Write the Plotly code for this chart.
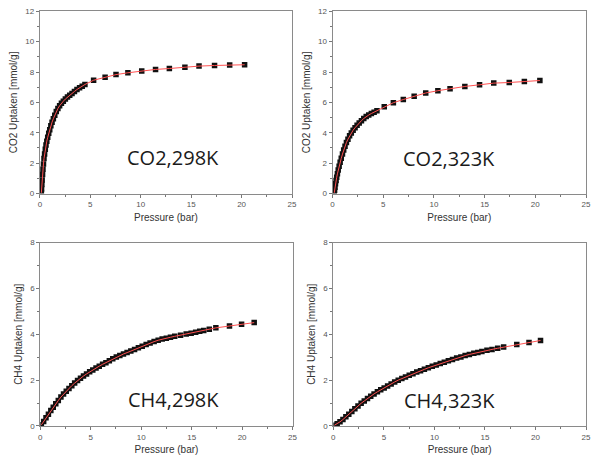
import plotly.graph_objects as go

# ---------------- data ----------------
co2_298_p = [0.15, 0.17, 0.2, 0.23, 0.27, 0.31, 0.36, 0.41, 0.47, 0.54, 0.61, 0.69, 0.78, 0.88, 0.98,
             1.09, 1.21, 1.34, 1.48, 1.63, 1.79, 1.96, 2.14, 2.33, 2.53, 2.74, 2.96, 3.19, 3.43, 3.68,
             3.94, 4.2, 4.47, 5.33, 6.47, 7.55, 8.73, 10.1, 11.47, 12.84, 14.38, 15.78, 17.32, 18.82, 20.3]
co2_298_q = [0.05, 0.3, 0.6, 0.9, 1.25, 1.6, 1.95, 2.3, 2.6, 2.92, 3.2, 3.45, 3.7, 3.97, 4.2,
             4.47, 4.7, 4.93, 5.15, 5.4, 5.6, 5.78, 5.95, 6.08, 6.22, 6.35, 6.47, 6.58, 6.72, 6.85,
             6.96, 7.07, 7.18, 7.46, 7.65, 7.83, 7.95, 8.06, 8.17, 8.23, 8.32, 8.39, 8.43, 8.47, 8.48]

co2_323_p = [0.17, 0.2, 0.24, 0.29, 0.35, 0.41, 0.48, 0.56, 0.65, 0.75, 0.86, 0.98, 1.1, 1.23, 1.37,
             1.52, 1.68, 1.85, 2.03, 2.22, 2.42, 2.63, 2.85, 3.08, 3.32, 3.57, 3.83, 4.1, 4.38,
             5.1, 6.0, 6.98, 8.05, 9.19, 10.39, 11.59, 13.05, 14.5, 15.9, 17.43, 18.92, 20.45]
co2_323_q = [0.05, 0.22, 0.42, 0.64, 0.86, 1.07, 1.3, 1.55, 1.8, 2.06, 2.32, 2.6, 2.86, 3.12, 3.36,
             3.58, 3.8, 3.99, 4.17, 4.33, 4.5, 4.65, 4.8, 4.94, 5.07, 5.17, 5.27, 5.36, 5.45,
             5.72, 5.98, 6.19, 6.41, 6.62, 6.77, 6.9, 7.05, 7.16, 7.27, 7.31, 7.38, 7.44]

ch4_298_p = [0.1, 0.33, 0.56, 0.8, 1.04, 1.28, 1.53, 1.78, 2.04, 2.3, 2.57, 2.84, 3.12, 3.4, 3.69,
             3.98, 4.28, 4.58, 4.89, 5.2, 5.52, 5.84, 6.17, 6.5, 6.84, 7.18, 7.53, 7.88, 8.24, 8.6,
             8.97, 9.34, 9.72, 10.1, 10.49, 10.88, 11.28, 11.68, 12.08, 12.49, 12.9, 13.32, 13.9,
             14.46, 14.95, 15.4, 15.8, 16.2, 16.75, 17.4, 18.75, 19.95, 21.2]
ch4_298_q = [0.05, 0.2, 0.36, 0.51, 0.67, 0.82, 0.97, 1.11, 1.26, 1.39, 1.52, 1.64, 1.76, 1.87, 1.98,
             2.08, 2.18, 2.27, 2.36, 2.44, 2.53, 2.61, 2.69, 2.76, 2.85, 2.93, 3.01, 3.07, 3.14, 3.2,
             3.27, 3.34, 3.41, 3.48, 3.55, 3.62, 3.68, 3.74, 3.79, 3.83, 3.87, 3.91, 3.96,
             4.01, 4.05, 4.09, 4.13, 4.17, 4.22, 4.28, 4.36, 4.44, 4.51]

ch4_323_p = [0.1, 0.38, 0.66, 0.95, 1.24, 1.53, 1.83, 2.13, 2.44, 2.75, 3.06, 3.38, 3.7, 4.03, 4.36,
             4.69, 5.03, 5.37, 5.72, 6.07, 6.42, 6.78, 7.14, 7.51, 7.88, 8.25, 8.63, 9.01, 9.4, 9.79,
             10.18, 10.58, 10.98, 11.38, 11.79, 12.2, 12.62, 13.04, 13.46, 13.9, 14.3, 14.7, 15.2,
             15.7, 16.26, 16.85, 18.15, 19.36, 20.5]
ch4_323_q = [0.03, 0.1, 0.18, 0.28, 0.4, 0.51, 0.63, 0.75, 0.87, 0.99, 1.09, 1.2, 1.3, 1.4, 1.49,
             1.58, 1.66, 1.74, 1.83, 1.92, 2.0, 2.07, 2.14, 2.21, 2.28, 2.35, 2.41, 2.47, 2.54, 2.6,
             2.66, 2.72, 2.78, 2.84, 2.9, 2.96, 3.01, 3.07, 3.12, 3.17, 3.21, 3.25, 3.3,
             3.34, 3.39, 3.44, 3.55, 3.64, 3.73]

panel_labels = ["CO2,298K", "CO2,323K", "CH4,298K", "CH4,323K"]
y_titles = ["CO2 Uptaken [mmol/g]", "CO2 Uptaken [mmol/g]",
            "CH4 Uptaken [mmol/g]", "CH4 Uptaken [mmol/g]"]
x_title = "Pressure (bar)"
y_max = [12, 12, 8, 8]
label_pos = [(13.2, 2.35), (11.45, 2.3), (13.2, 1.15), (11.45, 1.12)]

series = [(co2_298_p, co2_298_q), (co2_323_p, co2_323_q),
          (ch4_298_p, ch4_298_q), (ch4_323_p, ch4_323_q)]

W, H = 592, 465
# pixel boxes (left, right, top, bottom)
boxes = [(38.3, 293.5, 7.4, 193.3), (334.5, 591.0, 7.4, 193.3),
         (38.8, 294.0, 243.3, 430.3), (335.3, 591.0, 243.3, 430.3)]

fig = go.Figure()
axis_font = dict(family="Liberation Sans, Arial, sans-serif", size=8, color="#555555")
title_font = dict(family="Liberation Sans, Arial, sans-serif", size=10, color="#333333")

for i, ((px, py), box) in enumerate(zip(series, boxes)):
    n = "" if i == 0 else str(i + 1)
    fig.add_trace(go.Scatter(x=px, y=py, mode="markers", xaxis="x" + n, yaxis="y" + n,
                             marker=dict(symbol="square", size=5.5, color="#111111",
                                         line=dict(width=0)),
                             showlegend=False, hoverinfo="skip"))
    fig.add_trace(go.Scatter(x=px, y=py, mode="lines", xaxis="x" + n, yaxis="y" + n,
                             line=dict(color="#ff5050", width=1), showlegend=False,
                             hoverinfo="skip"))
    l, r, t, b = box
    common = dict(showline=True, linecolor="#8a8a8a", linewidth=1, mirror=True,
                  ticks="outside", ticklen=3, tickcolor="#777777", tickwidth=1,
                  showgrid=False, zeroline=False, tickfont=axis_font)
    fig.layout["xaxis" + n] = dict(common, domain=[l / W, r / W], range=[0, 25],
                                   tickvals=[0, 5, 10, 15, 20, 25],
                                   minor=dict(ticks="outside", ticklen=2, dtick=2.5,
                                              tickcolor="#777777"),
                                   title=dict(text=x_title, font=title_font, standoff=5),
                                   anchor="y" + n)
    fig.layout["yaxis" + n] = dict(common, domain=[1 - b / H, 1 - t / H],
                                   range=[0, y_max[i]], dtick=2,
                                   minor=dict(ticks="outside", ticklen=2, dtick=1,
                                              tickcolor="#777777"),
                                   title=dict(text=y_titles[i], font=title_font, standoff=5),
                                   anchor="x" + n)
    fig.add_annotation(x=label_pos[i][0], y=label_pos[i][1], xref="x" + n, yref="y" + n,
                       text=panel_labels[i], showarrow=False,
                       font=dict(family="Open Sans, Noto Sans, sans-serif", size=20,
                                 color="#1a1a1a"))

fig.update_layout(width=W, height=H, margin=dict(l=0, r=0, t=0, b=0),
                  paper_bgcolor="white", plot_bgcolor="white")
fig.write_html("out.html")
